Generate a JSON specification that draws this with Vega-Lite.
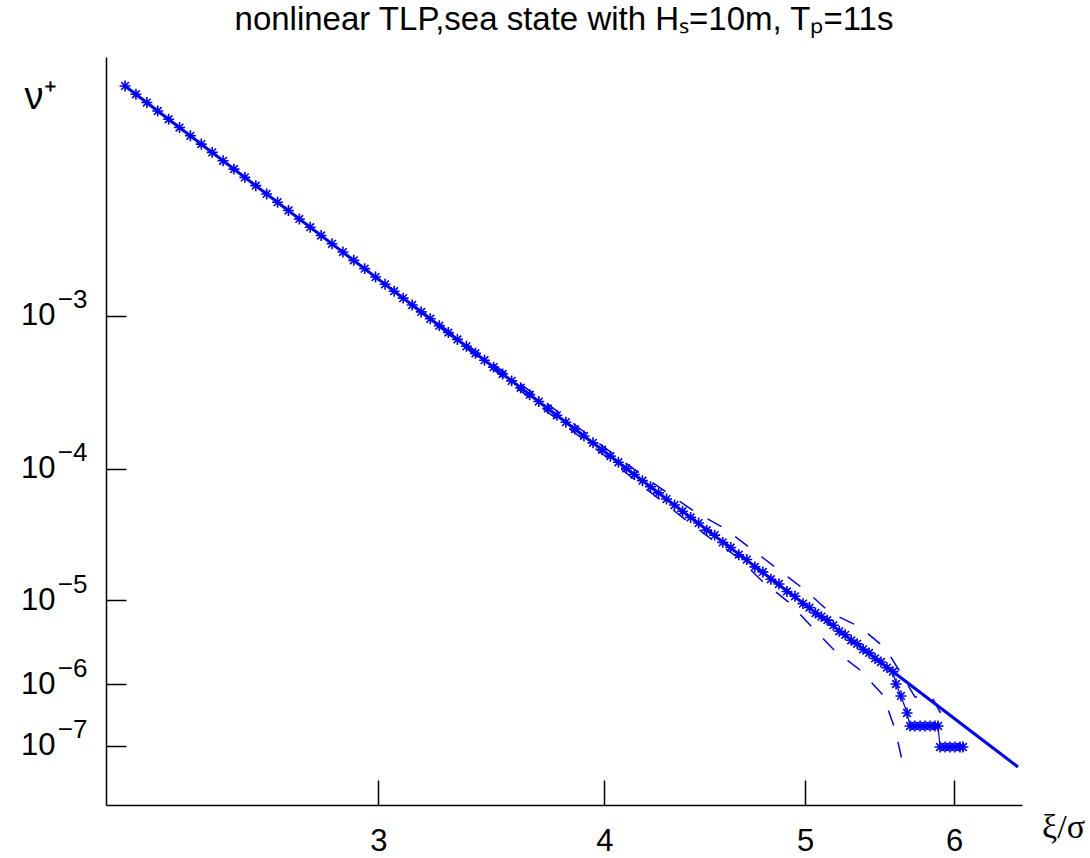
{
  "$schema": "https://vega.github.io/schema/vega-lite/v6.json",
  "width": 916,
  "height": 748,
  "autosize": {"type": "none"},
  "padding": {"left": 106, "top": 57, "right": 68, "bottom": 53},
  "background": "white",
  "config": {"view": {"stroke": null}, "font": "Liberation Sans"},
  "title": {
    "text": "nonlinear TLP,sea state with Hₛ=10m, Tₚ=11s",
    "font": "Liberation Sans",
    "fontSize": 33,
    "fontWeight": "normal",
    "color": "black",
    "anchor": "middle",
    "frame": "group",
    "offset": 20
  },
  "resolve": {"axis": {"y": "independent"}},
  "datasets": {
    "fit": [
      {"x": 2.0698, "log_nu": -1.668},
      {"x": 3, "log_nu": -2.788},
      {"x": 3.212, "log_nu": -3},
      {"x": 4, "log_nu": -3.8876},
      {"x": 4.112, "log_nu": -4},
      {"x": 4.97, "log_nu": -5},
      {"x": 5, "log_nu": -5.0548},
      {"x": 5.699, "log_nu": -6},
      {"x": 6, "log_nu": -6.554},
      {"x": 6.2654, "log_nu": -7},
      {"x": 6.4706, "log_nu": -7.359}
    ],
    "upper": [
      {"x": 2.0698, "log_nu": -1.668},
      {"x": 3, "log_nu": -2.788},
      {"x": 3.76, "log_nu": -3.59},
      {"x": 3.981, "log_nu": -3.839},
      {"x": 4.228, "log_nu": -4.094},
      {"x": 4.457, "log_nu": -4.334},
      {"x": 4.596, "log_nu": -4.452},
      {"x": 4.736, "log_nu": -4.615},
      {"x": 4.87, "log_nu": -4.772},
      {"x": 5, "log_nu": -4.924},
      {"x": 5.168, "log_nu": -5.149},
      {"x": 5.369, "log_nu": -5.321},
      {"x": 5.537, "log_nu": -5.571},
      {"x": 5.651, "log_nu": -5.893},
      {"x": 5.738, "log_nu": -6.211},
      {"x": 5.852, "log_nu": -6.211},
      {"x": 5.906, "log_nu": -6.454},
      {"x": 6.007, "log_nu": -6.502}
    ],
    "lower": [
      {"x": 2.0698, "log_nu": -1.668},
      {"x": 3, "log_nu": -2.788},
      {"x": 3.76, "log_nu": -3.642},
      {"x": 3.981, "log_nu": -3.891},
      {"x": 4.228, "log_nu": -4.177},
      {"x": 4.407, "log_nu": -4.391},
      {"x": 4.527, "log_nu": -4.528},
      {"x": 4.666, "log_nu": -4.676},
      {"x": 4.786, "log_nu": -4.855},
      {"x": 4.92, "log_nu": -5.03},
      {"x": 5.04, "log_nu": -5.31},
      {"x": 5.195, "log_nu": -5.595},
      {"x": 5.369, "log_nu": -5.833},
      {"x": 5.523, "log_nu": -6.178},
      {"x": 5.604, "log_nu": -6.729},
      {"x": 5.651, "log_nu": -7.241}
    ],
    "sim": [
      {"x": 2.07, "log_nu": -1.668}, {"x": 2.11, "log_nu": -1.716}, {"x": 2.15, "log_nu": -1.764},
      {"x": 2.19, "log_nu": -1.813}, {"x": 2.23, "log_nu": -1.861}, {"x": 2.27, "log_nu": -1.909},
      {"x": 2.31, "log_nu": -1.957}, {"x": 2.35, "log_nu": -2.005}, {"x": 2.39, "log_nu": -2.053},
      {"x": 2.43, "log_nu": -2.102}, {"x": 2.47, "log_nu": -2.15}, {"x": 2.51, "log_nu": -2.198},
      {"x": 2.55, "log_nu": -2.246}, {"x": 2.59, "log_nu": -2.294}, {"x": 2.63, "log_nu": -2.342},
      {"x": 2.67, "log_nu": -2.39}, {"x": 2.71, "log_nu": -2.439}, {"x": 2.75, "log_nu": -2.487},
      {"x": 2.79, "log_nu": -2.535}, {"x": 2.83, "log_nu": -2.583}, {"x": 2.87, "log_nu": -2.631},
      {"x": 2.91, "log_nu": -2.679}, {"x": 2.95, "log_nu": -2.727}, {"x": 2.99, "log_nu": -2.776},
      {"x": 3.03, "log_nu": -2.818}, {"x": 3.07, "log_nu": -2.858}, {"x": 3.11, "log_nu": -2.898},
      {"x": 3.15, "log_nu": -2.938}, {"x": 3.19, "log_nu": -2.978}, {"x": 3.23, "log_nu": -3.02},
      {"x": 3.27, "log_nu": -3.065}, {"x": 3.31, "log_nu": -3.11}, {"x": 3.35, "log_nu": -3.155},
      {"x": 3.39, "log_nu": -3.2}, {"x": 3.43, "log_nu": -3.246}, {"x": 3.47, "log_nu": -3.291},
      {"x": 3.51, "log_nu": -3.336}, {"x": 3.55, "log_nu": -3.381}, {"x": 3.59, "log_nu": -3.426},
      {"x": 3.63, "log_nu": -3.471}, {"x": 3.67, "log_nu": -3.516}, {"x": 3.71, "log_nu": -3.561},
      {"x": 3.75, "log_nu": -3.606}, {"x": 3.79, "log_nu": -3.651}, {"x": 3.83, "log_nu": -3.696},
      {"x": 3.87, "log_nu": -3.741}, {"x": 3.91, "log_nu": -3.786}, {"x": 3.95, "log_nu": -3.831},
      {"x": 3.99, "log_nu": -3.876}, {"x": 4.03, "log_nu": -3.918}, {"x": 4.07, "log_nu": -3.958},
      {"x": 4.11, "log_nu": -3.998}, {"x": 4.15, "log_nu": -4.044}, {"x": 4.19, "log_nu": -4.091},
      {"x": 4.23, "log_nu": -4.138}, {"x": 4.27, "log_nu": -4.184}, {"x": 4.31, "log_nu": -4.231},
      {"x": 4.35, "log_nu": -4.277}, {"x": 4.39, "log_nu": -4.324}, {"x": 4.43, "log_nu": -4.371},
      {"x": 4.47, "log_nu": -4.414}, {"x": 4.51, "log_nu": -4.468}, {"x": 4.55, "log_nu": -4.506},
      {"x": 4.59, "log_nu": -4.561}, {"x": 4.63, "log_nu": -4.600}, {"x": 4.67, "log_nu": -4.655},
      {"x": 4.71, "log_nu": -4.692}, {"x": 4.75, "log_nu": -4.748}, {"x": 4.79, "log_nu": -4.786},
      {"x": 4.83, "log_nu": -4.842}, {"x": 4.87, "log_nu": -4.878}, {"x": 4.91, "log_nu": -4.935},
      {"x": 4.95, "log_nu": -4.972}, {"x": 4.99, "log_nu": -5.043}, {"x": 5.03, "log_nu": -5.090},
      {"x": 5.07, "log_nu": -5.155}, {"x": 5.11, "log_nu": -5.198}, {"x": 5.15, "log_nu": -5.240},
      {"x": 5.19, "log_nu": -5.300}, {"x": 5.23, "log_nu": -5.372}, {"x": 5.27, "log_nu": -5.414},
      {"x": 5.31, "log_nu": -5.480}, {"x": 5.35, "log_nu": -5.522}, {"x": 5.39, "log_nu": -5.588},
      {"x": 5.43, "log_nu": -5.630}, {"x": 5.47, "log_nu": -5.696}, {"x": 5.51, "log_nu": -5.738},
      {"x": 5.55, "log_nu": -5.805}, {"x": 5.59, "log_nu": -5.853}, {"x": 5.611, "log_nu": -6.0},
      {"x": 5.644, "log_nu": -6.194}, {"x": 5.685, "log_nu": -6.47}, {"x": 5.705, "log_nu": -6.681},
      {"x": 5.738, "log_nu": -6.681}, {"x": 5.772, "log_nu": -6.681}, {"x": 5.805, "log_nu": -6.681},
      {"x": 5.839, "log_nu": -6.681}, {"x": 5.872, "log_nu": -6.681}, {"x": 5.893, "log_nu": -6.681},
      {"x": 5.906, "log_nu": -7.022}, {"x": 5.94, "log_nu": -7.022}, {"x": 5.973, "log_nu": -7.022},
      {"x": 6.007, "log_nu": -7.022}, {"x": 6.044, "log_nu": -7.022}, {"x": 6.066, "log_nu": -7.022}
    ]
  },
  "encoding": {
    "x": {
      "field": "x",
      "type": "quantitative",
      "scale": {"domain": [2, 3, 4, 5, 6, 6.5], "range": [0, 272.3, 498.3, 699, 848, 916], "zero": false, "nice": false},
      "axis": {
        "values": [3, 4, 5, 6],
        "grid": false,
        "title": "ξ/σ",
        "titleFont": "Liberation Serif",
        "titleFontSize": 34,
        "titleFontWeight": "normal",
        "titleColor": "black",
        "titleAngle": 0,
        "titleAlign": "center",
        "titleBaseline": "middle",
        "titleX": 957,
        "titleY": 22,
        "labelFont": "Liberation Sans",
        "labelFontSize": 31,
        "labelColor": "black",
        "labelPadding": 46,
        "labelFlush": false,
        "labelOverlap": false,
        "tickSize": -25,
        "tickColor": "black",
        "tickWidth": 1.5,
        "domainColor": "black",
        "domainWidth": 1.5
      }
    },
    "y": {
      "field": "log_nu",
      "type": "quantitative",
      "scale": {"domain": [-8, -7, -6, -5, -4, -3, -1.5], "range": [748, 688.7, 627, 543, 411.7, 258.7, 0], "zero": false, "nice": false},
      "axis": null
    }
  },
  "layer": [
    {
      "data": {"name": "upper"},
      "mark": {"type": "line", "color": "#0000ff", "strokeWidth": 1.5, "strokeDash": [16, 17]},
      "encoding": {
        "y": {
          "field": "log_nu",
          "type": "quantitative",
          "scale": {"domain": [-8, -7, -6, -5, -4, -3, -1.5], "range": [748, 688.7, 627, 543, 411.7, 258.7, 0], "zero": false, "nice": false},
          "axis": {
            "orient": "left",
            "values": [-7, -6, -5, -4, -3],
            "labelExpr": "'10'",
            "grid": false,
            "title": "ν⁺",
            "titleFont": "Liberation Sans",
            "titleFontSize": 38,
            "titleFontWeight": "normal",
            "titleColor": "black",
            "titleAngle": 0,
            "titleAlign": "center",
            "titleBaseline": "middle",
            "titleX": -66,
            "titleY": 40,
            "labelFont": "Liberation Sans",
            "labelFontSize": 31,
            "labelColor": "black",
            "labelPadding": 71,
            "labelOverlap": false,
            "tickSize": -20,
            "tickColor": "black",
            "tickWidth": 1.5,
            "domainColor": "black",
            "domainWidth": 1.5
          }
        }
      }
    },
    {"data": {"name": "lower"}, "mark": {"type": "line", "color": "#0000ff", "strokeWidth": 1.5, "strokeDash": [16, 17]}},
    {"data": {"name": "sim"}, "mark": {"type": "line", "color": "#0000ff", "strokeWidth": 1.2}},
    {"data": {"name": "sim"}, "mark": {"type": "point", "shape": "M-1,0L1,0M0,-1L0,1M-0.7,-0.7L0.7,0.7M-0.7,0.7L0.7,-0.7", "filled": false, "color": "#0000ff", "size": 120, "strokeWidth": 1.6, "opacity": 1}},
    {
      "data": {"name": "fit"},
      "mark": {"type": "line", "color": "#0000ff", "strokeWidth": 3},
      "encoding": {
        "y": {
          "field": "log_nu",
          "type": "quantitative",
          "scale": {"domain": [-8, -7, -6, -5, -4, -3, -1.5], "range": [748, 688.7, 627, 543, 411.7, 258.7, 0], "zero": false, "nice": false},
          "axis": {
            "orient": "left",
            "values": [-7, -6, -5, -4, -3],
            "labelExpr": "'−' + abs(datum.value)",
            "grid": false,
            "title": null,
            "domain": false,
            "labelFont": "Liberation Sans",
            "labelFontSize": 26,
            "labelColor": "black",
            "labelPadding": 39,
            "labelOffset": -16,
            "labelOverlap": false,
            "tickSize": -20,
            "tickOpacity": 0
          }
        }
      }
    }
  ]
}
